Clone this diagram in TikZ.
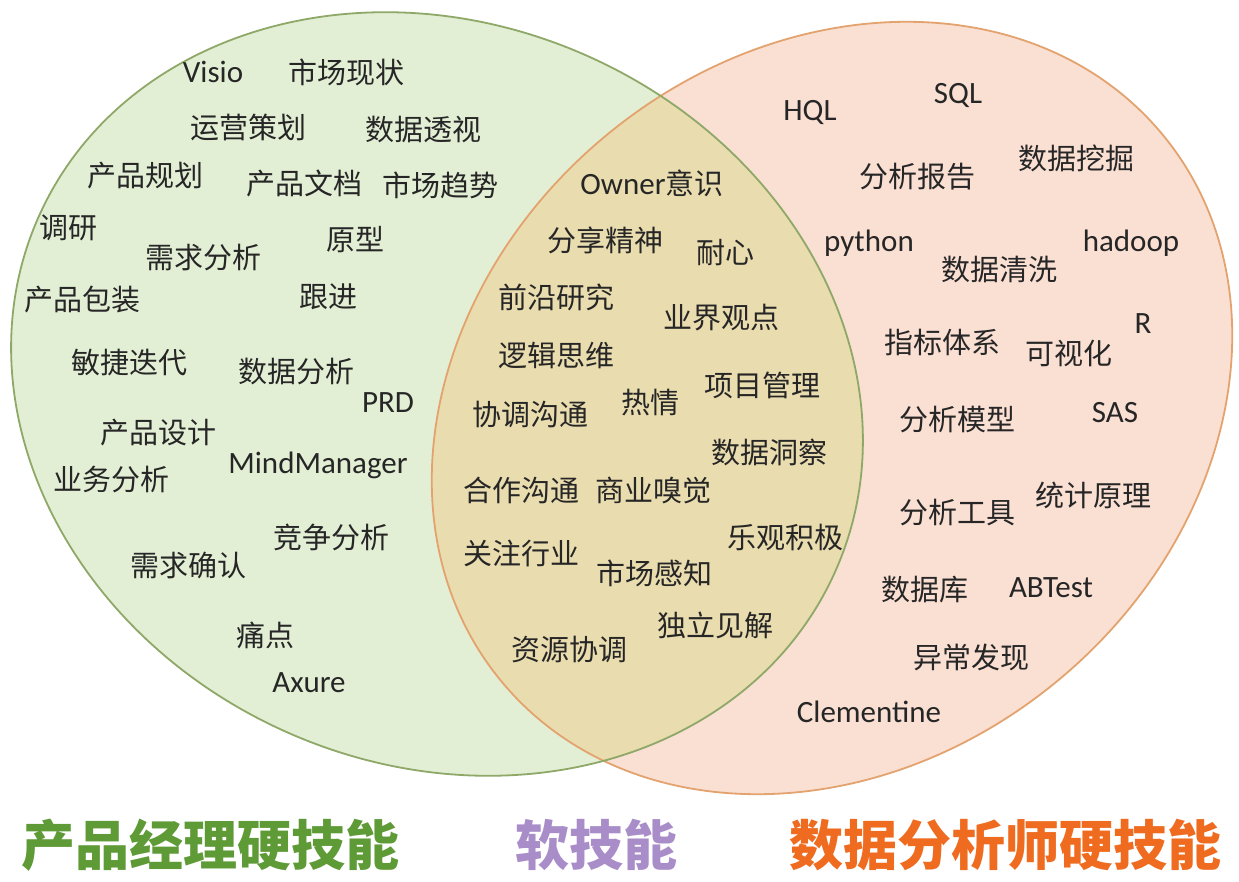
\documentclass[tikz,border=0pt]{standalone}
\usepackage{fontspec}
\setmainfont{Carlito}
\newfontfamily\cjk{Noto Sans CJK SC}

\definecolor{pmfill}{HTML}{E3EFD5}
\definecolor{dafill}{HTML}{FADFD3}
\definecolor{softfill}{HTML}{E9DCAF}
\definecolor{pmline}{HTML}{8EA868}
\definecolor{daline}{HTML}{E3A36E}
\definecolor{pmtitle}{HTML}{5E9A36}
\definecolor{softtitle}{HTML}{A98DC9}
\definecolor{datitle}{HTML}{EE6B1F}

\tikzset{
  skill/.style={font=\cjk\fontsize{29}{34}\selectfont, text=black!85, inner sep=0pt},
  tool/.style={font=\fontsize{31}{36}\selectfont, text=black!85, inner sep=0pt},
  title/.style={font=\cjk\bfseries\fontsize{54}{60}\selectfont, inner sep=0pt},
  pm/.style={rotate around={-24:(437,394)}},
  da/.style={rotate around={39.6:(832,408)}}
}

\begin{document}
\begin{tikzpicture}[x=1pt, y=-1pt]
  \useasboundingbox (0,0) rectangle (1239,882);
  \fill[white] (0,0) rectangle (1239,882);

  % the two sets
  \fill[pmfill, pm] (437,394) ellipse [x radius=436, y radius=370];
  \fill[dafill, da] (832,408) ellipse [x radius=429, y radius=354];
  \begin{scope}
    \clip[pm] (437,394) ellipse [x radius=436, y radius=370];
    \fill[softfill, da] (832,408) ellipse [x radius=429, y radius=354];
  \end{scope}
  \draw[daline, line width=1.8pt, da] (832,408) ellipse [x radius=429, y radius=354];
  \draw[pmline, line width=1.8pt, pm] (437,394) ellipse [x radius=436, y radius=370];

  % product manager
  \node[tool]  (l1)  at (213,72)  {Visio};
  \node[skill] (l2)  at (346,72)  {市场现状};
  \node[skill] (l3)  at (248,127) {运营策划};
  \node[skill] (l4)  at (423,130) {数据透视};
  \node[skill] (l5)  at (145,176) {产品规划};
  \node[skill] (l6)  at (304,183) {产品文档};
  \node[skill] (l7)  at (440,185) {市场趋势};
  \node[skill] (l8)  at (68,228)  {调研};
  \node[skill] (l9)  at (203,258) {需求分析};
  \node[skill] (l10) at (355,240) {原型};
  \node[skill] (l11) at (82,300)  {产品包装};
  \node[skill] (l12) at (328,297) {跟进};
  \node[skill] (l13) at (129,363) {敏捷迭代};
  \node[skill] (l14) at (296,372) {数据分析};
  \node[tool]  (l15) at (388,403) {PRD};
  \node[skill] (l16) at (158,433) {产品设计};
  \node[tool]  (l17) at (318,465) {MindManager};
  \node[skill] (l18) at (111,480) {业务分析};
  \node[skill] (l19) at (331,537) {竞争分析};
  \node[skill] (l20) at (188,565) {需求确认};
  \node[skill] (l21) at (265,635) {痛点};
  \node[tool]  (l22) at (309,683) {Axure};

  % soft skills
  \node[tool]  (m1)  at (652,183) {Owner{\cjk\fontsize{29}{34}\selectfont 意识}};
  \node[skill] (m2)  at (605,240) {分享精神};
  \node[skill] (m3)  at (725,253) {耐心};
  \node[skill] (m4)  at (556,297) {前沿研究};
  \node[skill] (m5)  at (721,318) {业界观点};
  \node[skill] (m6)  at (556,355) {逻辑思维};
  \node[skill] (m7)  at (650,403) {热情};
  \node[skill] (m8)  at (762,385) {项目管理};
  \node[skill] (m9)  at (530,415) {协调沟通};
  \node[skill] (m10) at (769,452) {数据洞察};
  \node[skill] (m11) at (521,490) {合作沟通};
  \node[skill] (m12) at (653,490) {商业嗅觉};
  \node[skill] (m13) at (785,537) {乐观积极};
  \node[skill] (m14) at (521,553) {关注行业};
  \node[skill] (m15) at (654,573) {市场感知};
  \node[skill] (m16) at (715,625) {独立见解};
  \node[skill] (m17) at (569,650) {资源协调};

  % data analyst
  \node[tool]  (r1)  at (810,112)  {HQL};
  \node[tool]  (r2)  at (958,95)   {SQL};
  \node[skill] (r3)  at (917,177)  {分析报告};
  \node[skill] (r4)  at (1076,158) {数据挖掘};
  \node[tool]  (r5)  at (869,243)  {python};
  \node[tool]  (r6)  at (1131,243) {hadoop};
  \node[skill] (r7)  at (999,270)  {数据清洗};
  \node[tool]  (r8)  at (1143,324) {R};
  \node[skill] (r9)  at (942,342)  {指标体系};
  \node[skill] (r10) at (1069,353) {可视化};
  \node[skill] (r11) at (957,420)  {分析模型};
  \node[tool]  (r12) at (1115,413) {SAS};
  \node[skill] (r13) at (1093,495) {统计原理};
  \node[skill] (r14) at (957,513)  {分析工具};
  \node[skill] (r15) at (925,590)  {数据库};
  \node[tool]  (r16) at (1051,588) {ABTest};
  \node[skill] (r17) at (971,657)  {异常发现};
  \node[tool]  (r18) at (869,712)  {Clementine};

  % headings
  \node[title, text=pmtitle]   (pmhead)   at (210,845)  {产品经理硬技能};
  \node[title, text=softtitle] (softhead) at (596,845)  {软技能};
  \node[title, text=datitle]   (dahead)   at (1005,845) {数据分析师硬技能};
\end{tikzpicture}
\end{document}
